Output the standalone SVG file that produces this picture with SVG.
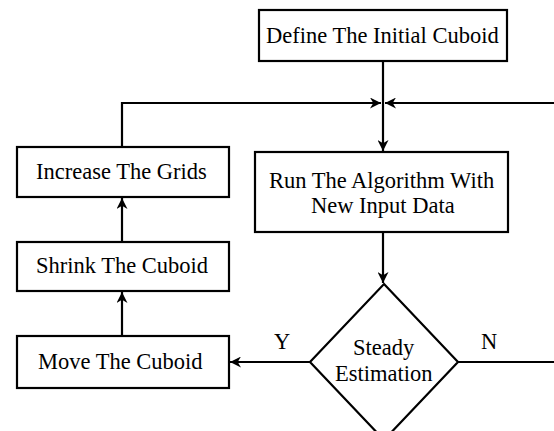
<svg xmlns="http://www.w3.org/2000/svg" width="554" height="431" viewBox="0 0 554 431" font-family="'Liberation Serif', 'Times New Roman', serif">
<style>
.box{fill:#fff;stroke:#000;stroke-width:2.2}
.ln{fill:none;stroke:#000;stroke-width:2.2}
.s{font-family:"Liberation Serif","Times New Roman",serif !important;font-size:22.5px;fill:#000}
</style>
<defs>
<marker id="ah" viewBox="0 0 10 10" refX="10" refY="5" markerWidth="5" markerHeight="5" orient="auto" markerUnits="strokeWidth">
<path d="M0,0 L10,5 L0,10 L3,5 Z" fill="#000"/>
</marker>
</defs>
<g id="connectors">
<path class="ln" d="M383,61 V151" marker-end="url(#ah)"/>
<path class="ln" d="M122,147 V103 H381" marker-end="url(#ah)"/>
<path class="ln" d="M458,362 H557 V103 H385" marker-end="url(#ah)"/>
<path class="ln" d="M383,232 V283" marker-end="url(#ah)"/>
<path class="ln" d="M310,362 H230" marker-end="url(#ah)"/>
<path class="ln" d="M122,336 V292" marker-end="url(#ah)"/>
<path class="ln" d="M122,242 V198" marker-end="url(#ah)"/>
<text class="s" x="274" y="349">Y</text>
<text class="s" x="481" y="349">N</text>
</g>
<g id="define">
<rect class="box" x="259" y="10" width="248" height="51"/>
<text class="s" x="266" y="43">Define The Initial Cuboid</text>
</g>
<g id="run">
<rect class="box" x="255" y="152" width="253" height="80"/>
<text class="s" x="269" y="188">Run The Algorithm With</text>
<text class="s" x="311" y="213">New Input Data</text>
</g>
<g id="steady">
<polygon class="box" points="384,284 458,362 384,440 310,362"/>
<text class="s" x="353" y="355">Steady</text>
<text class="s" x="335" y="381">Estimation</text>
</g>
<g id="increase">
<rect class="box" x="17" y="147" width="212" height="50"/>
<text class="s" x="36" y="179">Increase The Grids</text>
</g>
<g id="shrink">
<rect class="box" x="17" y="242" width="212" height="49"/>
<text class="s" x="36" y="273">Shrink The Cuboid</text>
</g>
<g id="move">
<rect class="box" x="17" y="336" width="212" height="52"/>
<text class="s" x="38" y="369">Move The Cuboid</text>
</g>
</svg>
